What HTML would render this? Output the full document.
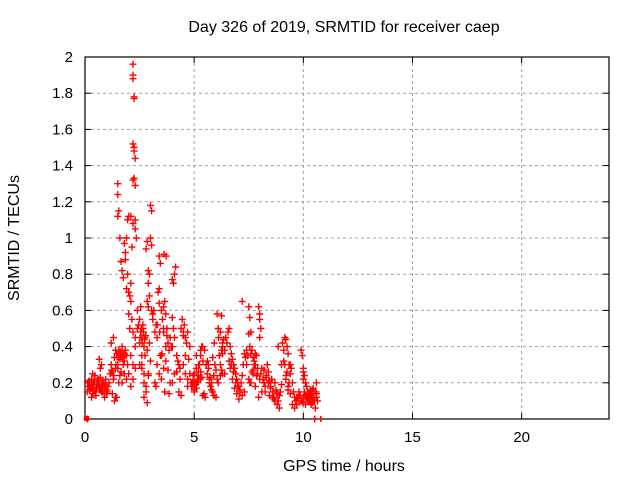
<!DOCTYPE html>
<html><head><meta charset="utf-8"><style>
body{margin:0;background:#fff}
svg text{font-family:"Liberation Sans",sans-serif;font-size:15px;fill:#000}
</style></head><body>
<svg id="chart" width="640" height="480" viewBox="0 0 640 480">
<rect width="640" height="480" fill="#fff"/>
<g id="grid"></g>
<g id="axes"></g>
<g id="marks"></g>
<text x="344" y="32" text-anchor="middle" style="font-size:16px">Day 326 of 2019, SRMTID for receiver caep</text>
<text x="344" y="471" text-anchor="middle" style="font-size:16px">GPS time / hours</text>
<text transform="translate(19,238) rotate(-90)" text-anchor="middle" style="font-size:16px">SRMTID / TECUs</text>
</svg>
<script>
const xTicks=[0,5,10,15,20];
const yTicks=[0,0.2,0.4,0.6,0.8,1,1.2,1.4,1.6,1.8,2];
const yTickLabels=["0","0.2","0.4","0.6","0.8","1","1.2","1.4","1.6","1.8","2"];
const times=[0.1,0.15,0.2,0.25,0.3,0.35,0.4,0.45,0.5,0.55,0.6,0.65,0.7,0.75,0.8,0.85,0.9,0.95,1.0,1.05,1.1,0.3,0.4,0.5,0.6,0.7,0.8,0.9,1.0,0.35,0.55,0.75,0.95,0.65,0.7,
0.12,0.22,0.32,0.42,0.52,0.62,0.72,0.82,0.92,1.02,0.18,0.28,0.38,0.48,0.58,0.68,0.78,0.88,
1.15,1.2,1.25,1.3,1.35,1.4,1.45,1.5,1.55,1.6,1.65,1.7,1.75,1.8,1.85,1.9,1.95,1.2,1.3,1.4,1.5,1.6,1.7,1.8,1.9,1.25,1.35,1.45,1.55,1.65,1.75,1.35,1.4,
1.22,1.32,1.42,1.52,1.62,1.72,1.82,
1.5,1.5,1.55,1.5,1.6,1.65,1.7,1.75,1.8,1.85,1.9,1.95,1.85,1.9,1.95,2.0,2.0,2.05,2.1,
2.2,2.2,2.2,2.25,2.25,2.2,2.25,2.25,2.3,2.2,2.25,2.3,2.1,2.2,2.3,2.35,2.3,2.15,2.1,2.0,2.05,2.15,2.2,2.3,2.4,2.45,2.1,2.2,2.3,2.4,2.0,2.1,2.2,2.3,
2.5,2.55,2.6,2.65,2.7,2.75,2.8,2.85,2.9,2.95,3.0,3.05,3.0,3.05,2.9,2.95,2.85,2.9,2.5,2.6,2.7,2.8,2.9,3.0,3.1,2.55,2.65,2.75,2.85,2.95,3.05,2.6,2.7,2.8,2.85,2.9,2.5,2.6,2.7,
2.52,2.58,2.62,2.68,2.72,2.78,
3.1,3.15,3.2,3.25,3.3,3.35,3.4,3.45,3.5,3.55,3.6,3.65,3.7,3.75,3.8,3.85,3.9,3.95,3.4,3.4,3.3,3.5,3.6,3.7,3.2,3.3,3.4,3.5,3.6,3.7,3.8,3.9,3.25,3.45,3.65,3.85,3.6,3.75,
3.32,3.42,3.52,3.62,3.72,
4.0,4.05,4.1,4.15,4.0,4.05,4.1,4.0,4.2,4.25,4.3,4.35,4.4,4.45,4.5,4.55,4.6,4.65,4.7,4.75,4.8,4.5,4.6,4.7,4.2,4.3,4.4,4.0,4.1,4.5,4.6,4.7,4.8,4.35,
4.85,4.9,4.95,5.0,5.05,5.1,5.15,5.2,5.25,5.3,5.35,5.4,5.45,5.5,4.9,5.0,5.1,5.2,5.3,5.4,5.0,5.1,5.2,5.3,4.95,5.15,5.35,
4.88,4.98,5.08,5.18,5.28,5.38,5.48,
5.55,5.6,5.65,5.7,5.75,5.8,5.85,5.9,5.95,6.0,6.05,6.1,6.15,6.2,6.25,6.3,6.35,6.4,6.45,6.5,5.6,5.7,5.8,5.9,6.0,6.1,6.2,6.3,6.4,5.65,5.85,6.05,6.25,6.3,6.3,6.2,6.25,
5.72,5.92,6.12,
6.55,6.6,6.65,6.7,6.75,6.8,6.85,6.9,6.95,7.0,7.05,7.1,7.15,7.2,7.25,7.3,7.35,7.4,7.45,6.6,6.7,6.8,6.9,7.0,7.1,7.2,7.3,7.4,6.65,6.75,6.85,6.95,7.05,7.2,
7.5,7.55,7.6,7.5,7.55,7.6,7.65,7.7,7.75,7.8,7.85,7.9,7.95,8.0,8.0,8.05,8.0,8.05,7.5,7.6,7.7,7.8,7.9,8.0,8.1,7.55,7.65,7.75,7.85,7.95,7.8,7.7,
8.1,8.15,8.2,8.25,8.3,8.35,8.4,8.45,8.5,8.55,8.6,8.65,8.7,8.75,8.8,8.85,8.9,8.95,9.0,8.2,8.3,8.4,8.5,8.6,8.7,8.8,8.9,9.0,8.25,8.45,8.65,8.85,
9.05,9.1,9.15,9.2,9.25,9.3,9.35,9.4,9.45,9.5,9.55,9.6,9.65,9.7,9.75,9.8,9.85,9.9,9.95,9.1,9.2,9.3,9.4,9.5,9.6,9.7,9.8,9.9,9.15,9.25,9.35,9.2,9.3,9.4,
10.0,10.05,10.1,10.15,10.2,10.25,10.3,10.35,10.4,10.45,10.5,10.55,10.6,10.65,10.0,10.1,10.2,10.3,10.4,10.5,10.6,10.05,10.15,10.25,10.35,10.45,10.55,10.0,10.0,10.0,10.6,
9.92,10.08,10.18,10.28,10.38,10.48,10.58,9.98,10.12,10.32,10.52,0.1,0.12];
const values=[0.15,0.18,0.2,0.17,0.22,0.14,0.19,0.24,0.16,0.2,0.22,0.18,0.23,0.15,0.21,0.19,0.17,0.22,0.14,0.18,0.2,0.12,0.16,0.13,0.2,0.17,0.15,0.12,0.16,0.25,0.21,0.3,0.2,0.33,0.28,
0.2,0.16,0.18,0.21,0.17,0.19,0.16,0.2,0.18,0.15,0.21,0.17,0.2,0.15,0.19,0.16,0.18,0.14,
0.25,0.3,0.26,0.22,0.34,0.28,0.36,0.3,0.38,0.33,0.35,0.4,0.36,0.32,0.38,0.35,0.3,0.42,0.45,0.38,0.28,0.24,0.2,0.25,0.22,0.14,0.1,0.12,0.2,0.26,0.3,0.1,0.12,
0.27,0.24,0.3,0.34,0.37,0.34,0.36,
1.3,1.24,1.15,1.12,1.0,0.87,0.82,0.78,0.97,0.92,1.0,1.1,0.88,0.72,0.8,0.7,1.12,0.68,0.75,
1.96,1.9,1.88,1.78,1.77,1.52,1.5,1.48,1.44,1.32,1.33,1.29,1.12,1.08,1.1,1.0,1.05,0.95,0.65,0.58,0.5,0.55,0.48,0.45,0.5,0.52,0.35,0.3,0.4,0.6,0.25,0.18,0.22,0.28,
0.55,0.48,0.45,0.52,0.4,0.35,0.94,0.98,0.82,0.8,1.18,1.15,1.0,0.96,0.75,0.68,0.65,0.62,0.3,0.28,0.2,0.18,0.25,0.32,0.58,0.62,0.5,0.45,0.38,0.42,0.6,0.3,0.12,0.15,0.09,0.24,0.42,0.35,0.25,
0.45,0.5,0.42,0.48,0.44,0.46,
0.55,0.6,0.48,0.52,0.45,0.7,0.9,0.86,0.6,0.55,0.62,0.65,0.58,0.5,0.42,0.38,0.45,0.4,0.72,0.64,0.3,0.35,0.48,0.4,0.2,0.3,0.25,0.22,0.28,0.32,0.27,0.2,0.18,0.35,0.15,0.14,
0.5,0.46,0.52,0.48,0.36,
0.91,0.9,0.77,0.75,0.8,0.84,0.56,0.5,0.45,0.4,0.35,0.32,0.3,0.28,0.5,0.55,0.48,0.52,0.45,0.42,0.48,0.33,0.4,0.46,0.25,0.22,0.26,0.15,0.13,0.2,0.25,0.3,0.35,0.18,
0.25,0.22,0.2,0.18,0.24,0.15,0.2,0.17,0.22,0.26,0.3,0.35,0.4,0.32,0.14,0.12,0.2,0.25,0.28,0.22,0.26,0.13,0.16,0.35,0.3,0.38,0.2,
0.2,0.23,0.18,0.21,0.19,0.24,0.22,
0.4,0.38,0.3,0.25,0.28,0.22,0.18,0.2,0.15,0.24,0.3,0.27,0.22,0.2,0.35,0.3,0.38,0.42,0.44,0.38,0.45,0.42,0.32,0.2,0.16,0.13,0.12,0.5,0.48,0.36,0.25,0.3,0.34,0.58,0.57,0.4,0.25,
0.24,0.27,0.23,
0.42,0.45,0.48,0.5,0.4,0.36,0.33,0.3,0.28,0.25,0.22,0.2,0.18,0.16,0.2,0.24,0.3,0.36,0.34,0.38,0.35,0.32,0.3,0.26,0.2,0.18,0.15,0.13,0.15,0.3,0.28,0.22,0.17,0.14,0.11,
0.65,0.62,0.56,0.48,0.47,0.4,0.36,0.38,0.34,0.3,0.36,0.35,0.28,0.62,0.58,0.55,0.5,0.45,0.25,0.22,0.2,0.27,0.3,0.25,0.22,0.15,0.2,0.26,0.32,0.24,0.12,0.18,
0.25,0.28,0.22,0.2,0.18,0.24,0.3,0.26,0.21,0.18,0.22,0.15,0.12,0.2,0.16,0.14,0.1,0.13,0.15,0.3,0.27,0.23,0.2,0.17,0.12,0.1,0.08,0.06,0.19,0.15,0.13,0.11,
0.4,0.42,0.38,0.45,0.44,0.4,0.36,0.3,0.25,0.28,0.2,0.15,0.12,0.1,0.08,0.12,0.15,0.13,0.1,0.35,0.32,0.22,0.18,0.14,0.08,0.06,0.12,0.1,0.38,0.3,0.26,0.2,0.24,0.16,
0.3,0.26,0.24,0.2,0.18,0.15,0.12,0.1,0.14,0.16,0.12,0.1,0.15,0.2,0.1,0.12,0.08,0.1,0.13,0.09,0.11,0.14,0.15,0.12,0.1,0.08,0.17,0.06,0.22,0.28,0.12,
0.12,0.1,0.13,0.11,0.14,0.12,0.1,0.15,0.09,0.13,0.16,0.0,0.0];
const X0=85,X1=609,Y0=419,Y1=57;
function sx(t){return X0+(X1-X0)*t/24;}
function sy(v){return Y0-(Y0-Y1)*v/2;}
const NS="http://www.w3.org/2000/svg";
function mk(tag,attrs,parent){const e=document.createElementNS(NS,tag);for(const k in attrs)e.setAttribute(k,attrs[k]);parent.appendChild(e);return e;}
const grid=document.getElementById('grid'),axes=document.getElementById('axes'),marks=document.getElementById('marks');
yTicks.forEach((v,i)=>{
  const y=sy(v);
  if(i>0&&i<yTicks.length-1){const g=mk('line',{x1:X0,x2:X1,y1:y,y2:y,stroke:'#a0a0a0','stroke-dasharray':'3,3'},grid);
    
    }
  mk('line',{x1:X0,x2:X0+6,y1:y,y2:y,stroke:'#000'},axes);
  mk('line',{x1:X1,x2:X1-6,y1:y,y2:y,stroke:'#000'},axes);
  const t=mk('text',{x:X0-12,y:y+5,'text-anchor':'end'},axes);t.textContent=yTickLabels[i];
  
  
});
xTicks.forEach(v=>{
  const x=sx(v);
  if(v>0){const g=mk('line',{x1:x,x2:x,y1:Y1,y2:Y0,stroke:'#a0a0a0','stroke-dasharray':'3,3'},grid);
    
    }
  mk('line',{x1:x,x2:x,y1:Y0,y2:Y0-6,stroke:'#000'},axes);
  mk('line',{x1:x,x2:x,y1:Y1,y2:Y1+6,stroke:'#000'},axes);
  const t=mk('text',{x:x,y:Y0+23,'text-anchor':'middle'},axes);t.textContent=String(v);
  
  
});
const fr=mk('rect',{x:X0,y:Y1,width:X1-X0,height:Y0-Y1,fill:'none',stroke:'#000','stroke-width':1.2},axes);


let d='';
for(let i=0;i<times.length;i++){const x=sx(times[i]),y=sy(values[i]);d+=`M${(x-3.5).toFixed(1)} ${y.toFixed(1)}h7M${x.toFixed(1)} ${(y-3.5).toFixed(1)}v7`;}
const p=mk('path',{d:d,stroke:'#f00','stroke-width':1.4,fill:'none'},marks);


const sq=mk('rect',{x:sx(0.05)-2,y:Y0-3,width:5,height:5,fill:'#f00'},marks);


const tk=mk('line',{x1:sx(10.8),x2:sx(10.8),y1:Y0-3,y2:Y0+3,stroke:'#f00','stroke-width':1.5},marks);


</script>
</body></html>
